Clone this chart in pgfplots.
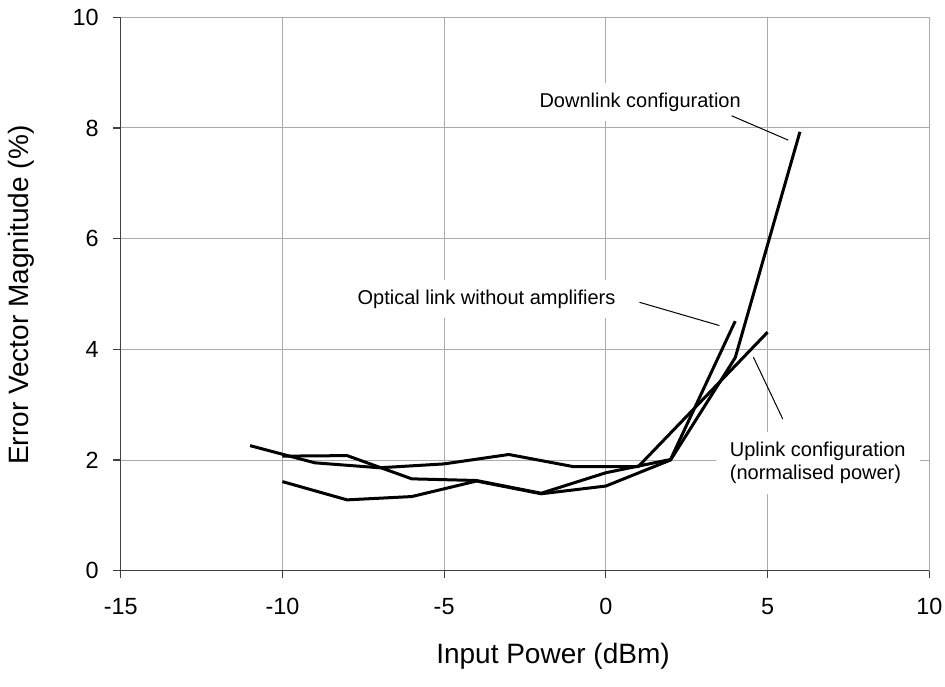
\documentclass[border=0pt]{standalone}
\usepackage{fontspec}
\setmainfont{Liberation Sans}
\usepackage{pgfplots}
\pgfplotsset{compat=1.18}
\begin{document}
\begin{tikzpicture}
\begin{axis}[
  scale only axis, width=404.3pt, height=276.7pt,
  xmin=-15, xmax=10, ymin=0, ymax=10,
  xtick={-15,-10,-5,0,5,10}, xticklabels={-15,-10,-5,0,5,10},
  ytick={0,2,4,6,8,10}, yticklabels={0,2,4,6,8,10},
  grid=major, grid style={draw=black!33, line width=0.5pt},
  axis x line*=bottom, axis y line*=left,
  axis line style={draw=black!75, line width=0.65pt, -},
  tick align=outside, major tick length=3.7pt,
  tick style={draw=black!75, line width=0.6pt},
  ticklabel style={font=\fontsize{11.7}{13}\selectfont},
  xticklabel style={yshift=-6.5pt},
  yticklabel style={xshift=-3.75pt},
  xlabel={Input Power (dBm)},
  xlabel style={at={(axis description cs:0.5346,-0.1554)}, anchor=center, font=\fontsize{14}{16}\selectfont},
  ylabel={Error Vector Magnitude (\%)},
  ylabel style={at={(axis description cs:-0.1226,0.498)}, anchor=center, font=\fontsize{14}{16}\selectfont},
  clip=false,
]
% Uplink configuration (normalised power)
\addplot[black, line width=1.5pt] coordinates {
 (-11,2.26) (-9,1.95) (-7,1.86) (-5,1.93) (-3,2.10) (-1,1.88) (1,1.88) (5,4.31)};
% Optical link without amplifiers
\addplot[black, line width=1.5pt] coordinates {
 (-10,2.07) (-8,2.08) (-6,1.66) (-4,1.63) (-2,1.40) (0,1.77) (2,2.01) (4,4.51)};
% Downlink configuration
\addplot[black, line width=1.5pt] coordinates {
 (-10,1.61) (-8,1.28) (-6,1.34) (-4,1.62) (-2,1.39) (0,1.53) (2,2.00) (4,3.85) (6,7.93)};

\node[fill=white, inner xsep=7pt, inner ysep=5pt, font=\fontsize{10}{12}\selectfont] at (axis cs:1.06,8.47) {Downlink configuration};
\node[fill=white, inner xsep=7pt, inner ysep=5pt, font=\fontsize{10}{12}\selectfont] at (axis cs:-3.69,4.91) {Optical link without amplifiers};
\node[fill=white, inner xsep=7pt, inner ysep=5pt, align=left, font=\fontsize{10}{11.7}\selectfont] at (axis cs:6.55,1.95) {Uplink configuration\\(normalised power)};
\draw[black, line width=0.5pt] (axis cs:3.89,8.22) -- (axis cs:5.64,7.78);
\draw[black, line width=0.5pt] (axis cs:1.04,4.85) -- (axis cs:3.51,4.43);
\draw[black, line width=0.5pt] (axis cs:4.56,3.86) -- (axis cs:5.47,2.74);
\coordinate (SW) at (rel axis cs:0,0);
\coordinate (NE) at (rel axis cs:1,1);
\end{axis}
\pgfresetboundingbox
\path[use as bounding box] ([shift={(-60.35pt,-57.65pt)}]SW) rectangle ([shift={(7.85pt,8.65pt)}]NE);
\end{tikzpicture}
\end{document}
